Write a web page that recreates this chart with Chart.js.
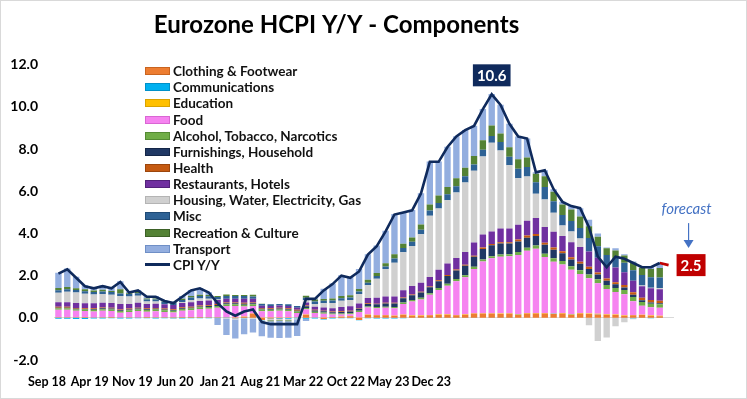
<!DOCTYPE html>
<html>
<head>
<meta charset="utf-8">
<title>Eurozone HCPI Y/Y - Components</title>
<script src="https://cdn.jsdelivr.net/npm/chart.js@4"></script>
<style>
  html, body { margin: 0; padding: 0; background: #fff; }
  .wrap { position: relative; width: 747px; height: 399px; }
  #legend { position: absolute; left: 145px; top: 63px; font: bold 13.5px Lato, sans-serif; color: #111; }
  #legend .row { height: 16.17px; display: flex; align-items: center; white-space: nowrap; }
  #legend .sw { width: 23px; height: 6px; margin-right: 3px; border: 1px solid; }
  #legend .ln { width: 25px; height: 3px; margin-right: 3px; }
</style>
</head>
<body>
<div class="wrap">
  <canvas id="hicpChart" width="747" height="399"></canvas>
  <div id="legend"></div>
</div>
<script>
// Monthly contributions to euro area HICP Y/Y (pp), Sep 18 - May 24
const clothing = [0.02,0.02,0.02,0.03,0.01,0.02,0.03,0.01,0.02,0.01,0.03,0.02,0.02,0.02,0.03,0.03,
  0.03,0.02,0.02,0,-0.02,0.05,0.2,-0.1,-0.03,-0.02,-0.01,0,
  0.15,0,-0.05,0.03,0.05,0.08,-0.1,0.15,0.12,0.12,0.1,0.15,
  0.1,0.1,0.12,0.15,0.15,0.12,0.15,0.2,0.2,0.2,0.18,0.2,
  0.15,0.2,0.2,0.2,0.18,0.2,0.15,0.2,0.18,0.16,0.15,0.14,
  0.1,0.12,0.13,0.1,0.08];
const communications = [-0.04,-0.04,-0.05,-0.05,-0.03,-0.03,-0.02,-0.03,-0.03,-0.02,-0.02,-0.03,-0.02,-0.02,-0.03,-0.02,
  -0.02,-0.02,-0.01,-0.01,-0.01,-0.02,-0.01,-0.02,-0.02,-0.03,-0.03,-0.02,
  -0.04,-0.03,-0.03,-0.03,-0.02,-0.02,-0.02,-0.02,-0.03,-0.03,-0.03,-0.02,
  -0.01,-0.01,-0.01,-0.01,-0.01,-0.01,-0.01,-0.01,0,-0.01,-0.01,-0.01,
  0.01,0.01,0.01,0.01,0.01,0.01,0.01,0.01,0,0.01,0,0,
  -0.01,-0.02,-0.01,-0.02,-0.01];
const education = [0.01,0.01,0.01,0.01,0.01,0.01,0.01,0.01,0.01,0.01,0.01,0.01,0.01,0.01,0.01,0.01,
  0.01,0.01,0.01,0.01,0.01,0.01,0.01,0.01,0.01,0.01,0.01,0.01,
  0.01,0.01,0.01,0.01,0.01,0.01,0.01,0.01,0.01,0.01,0.01,0.01,
  0.02,0.02,0.02,0.02,0.02,0.02,0.02,0.02,0.02,0.02,0.02,0.02,
  0.02,0.02,0.02,0.02,0.02,0.02,0.02,0.02,0.02,0.02,0.02,0.02,
  0.02,0.02,0.02,0.02,0.02];
const food = [0.35,0.35,0.3,0.28,0.28,0.3,0.28,0.22,0.25,0.3,0.25,0.28,0.25,0.22,0.3,0.32,
  0.38,0.4,0.45,0.55,0.55,0.48,0.35,0.3,0.3,0.32,0.3,0.22,
  0.25,0.22,0.18,0.12,0.1,0.08,0.27,0.33,0.33,0.35,0.35,0.5,
  0.65,0.75,0.95,1.15,1.35,1.6,1.75,2.1,2.45,2.6,2.7,2.7,
  2.8,2.95,3.05,2.65,2.45,2.3,2.1,1.85,1.68,1.45,1.2,1.07,
  1.0,0.65,0.42,0.38,0.38];
const alcohol = [0.07,0.07,0.07,0.07,0.08,0.08,0.08,0.08,0.08,0.08,0.08,0.08,0.08,0.08,0.08,0.08,
  0.08,0.08,0.08,0.08,0.08,0.08,0.08,0.08,0.07,0.07,0.07,0.07,
  0.06,0.06,0.06,0.05,0.05,0.05,0.05,0.05,0.05,0.05,0.05,0.07,
  0.08,0.08,0.08,0.09,0.1,0.1,0.1,0.1,0.1,0.1,0.1,0.1,
  0.14,0.14,0.15,0.16,0.17,0.17,0.17,0.18,0.18,0.19,0.19,0.18,
  0.2,0.2,0.18,0.17,0.16];
const furnishings = [0.03,0.03,0.03,0.03,0.04,0.04,0.04,0.04,0.04,0.04,0.04,0.04,0.04,0.04,0.04,0.04,
  0.04,0.05,0.05,0.05,0.05,0.05,0.05,0.04,0.04,0.04,0.04,0.04,
  0.08,0.06,0.06,0.06,0.07,0.08,0.1,0.12,0.13,0.15,0.17,0.2,
  0.22,0.25,0.28,0.32,0.36,0.4,0.45,0.48,0.5,0.52,0.52,0.5,
  0.5,0.48,0.45,0.42,0.4,0.36,0.32,0.3,0.26,0.22,0.2,0.18,
  0.12,0.1,0.08,0.06,0.05];
const health = [0.04,0.04,0.04,0.04,0.04,0.04,0.04,0.04,0.04,0.04,0.04,0.04,0.04,0.04,0.04,0.04,
  0.04,0.04,0.04,0.04,0.04,0.04,0.04,0.04,0.04,0.04,0.04,0.04,
  0.03,0.03,0.03,0.03,0.03,0.03,0.03,0.03,0.03,0.03,0.03,0.03,
  0.04,0.04,0.04,0.05,0.05,0.05,0.05,0.05,0.06,0.06,0.07,0.07,
  0.1,0.1,0.1,0.1,0.1,0.1,0.1,0.1,0.1,0.1,0.1,0.1,
  0.12,0.12,0.12,0.12,0.12];
const restaurants = [0.22,0.22,0.23,0.23,0.23,0.22,0.22,0.25,0.22,0.24,0.2,0.2,0.2,0.2,0.2,0.22,
  0.22,0.22,0.2,0.18,0.18,0.2,0.18,0.1,0.1,0.1,0.1,0.1,
  0.15,0.15,0.15,0.15,0.2,0.22,0.22,0.25,0.28,0.3,0.3,0.35,
  0.4,0.42,0.45,0.5,0.55,0.55,0.6,0.62,0.62,0.6,0.65,0.65,
  0.7,0.7,0.75,0.75,0.75,0.72,0.72,0.7,0.72,0.7,0.62,0.7,
  0.6,0.55,0.55,0.55,0.55];
const housing = [0.45,0.5,0.5,0.45,0.42,0.42,0.4,0.38,0.35,0.33,0.12,0.1,0.02,-0.04,0.05,0.1,
  0.12,0.08,0.02,-0.02,-0.05,-0.03,-0.03,-0.05,-0.07,-0.07,-0.07,-0.05,
  0.1,0.12,0.2,0.25,0.3,0.3,0.45,0.6,0.9,1.3,1.6,1.8,
  1.9,2.3,2.9,2.9,3.0,3.1,3.3,3.4,3.7,4.2,3.7,3.0,
  2.2,2.1,1.15,1.3,0.9,0.5,0.5,0.4,-0.35,-1.1,-0.93,-0.4,
  -0.2,-0.05,0.03,0.03,0.05];
const misc = [0.12,0.12,0.12,0.12,0.12,0.12,0.12,0.12,0.12,0.12,0.1,0.1,0.1,0.1,0.1,0.12,
  0.12,0.12,0.12,0.12,0.12,0.12,0.1,0.08,0.08,0.08,0.08,0.08,
  0.12,0.12,0.12,0.12,0.12,0.12,0.12,0.12,0.13,0.13,0.2,0.2,
  0.2,0.22,0.25,0.27,0.28,0.3,0.3,0.3,0.32,0.32,0.4,0.4,
  0.45,0.45,0.55,0.6,0.55,0.5,0.5,0.5,0.65,0.55,0.5,0.45,
  0.45,0.5,0.5,0.5,0.5];
const recreation = [0.1,0.1,0.08,0.1,0.07,0.08,0.05,0.2,0.03,0.1,0.05,0.05,0.03,0.03,0.06,0.08,
  0.06,0.06,0.05,0.08,0.05,0.05,0.08,0.02,-0.04,-0.03,-0.05,0,
  0.1,0.1,0.08,0.1,0.1,0.1,0.12,0.15,0.15,0.15,0.2,0.2,
  0.2,0.25,0.28,0.35,0.35,0.38,0.4,0.4,0.45,0.5,0.4,0.45,
  0.45,0.45,0.4,0.5,0.45,0.5,0.55,0.55,0.55,0.45,0.32,0.35,
  0.35,0.35,0.35,0.38,0.45];
const transport = [0.73,0.88,0.55,0.19,0.13,0.2,0.15,0.38,0.07,0.05,0.1,0.11,0.03,0.02,0.12,0.28,
  0.32,0.13,-0.33,-0.78,-0.9,-0.73,-0.65,-0.7,-0.78,-0.81,-0.78,-0.79,
  -0.11,0.06,0.49,0.71,0.99,0.85,0.95,1.21,1.3,1.54,1.92,1.51,
  1.3,1.48,2.04,1.61,1.9,1.99,1.79,1.44,1.48,1.49,1.37,1.12,
  1.08,0.9,0.07,0.29,0.12,0.12,0.16,0.39,0.31,0.15,0.03,0.11,
  0.05,0.06,0.03,0.11,0.25];
const cpi = [2.1,2.3,1.9,1.5,1.4,1.5,1.4,1.7,1.2,1.3,1.0,1.0,0.8,0.7,1.0,1.3,
  1.4,1.2,0.7,0.3,0.1,0.3,0.4,-0.2,-0.3,-0.3,-0.3,-0.3,
  0.9,0.9,1.3,1.6,2.0,1.9,2.2,3.0,3.4,4.1,4.9,5.0,
  5.1,5.9,7.4,7.4,8.1,8.6,8.9,9.1,9.9,10.6,10.1,9.2,
  8.6,8.5,6.9,7.0,6.1,5.5,5.3,5.2,4.3,2.9,2.4,2.9,
  2.8,2.6,2.4,2.4,2.6];
// last actual (May 24) and the Jun 24 forecast
const forecast = [2.6, 2.5];
const tickLabels = ['Sep 18', 'Apr 19', 'Nov 19', 'Jun 20', 'Jan 21', 'Aug 21', 'Mar 22', 'Oct 22', 'May 23', 'Dec 23'];

// month categories, Sep 18 through the forecast month
const monthNames = ['Jan','Feb','Mar','Apr','May','Jun','Jul','Aug','Sep','Oct','Nov','Dec'];
const months = [];
for (let i = 0; i < cpi.length + 1; i++) {
    const m = (8 + i) % 12;
    const yr = 18 + Math.floor((8 + i) / 12);
    months.push(monthNames[m] + ' ' + yr);
}

const FONT = 'Lato, "Open Sans", sans-serif';

const components = [
    { label: 'Clothing & Footwear', data: clothing, color: '#ed7d31', edge: '#c9641f' },
    { label: 'Communications', data: communications, color: '#00b0f0', edge: '#0090c8' },
    { label: 'Education', data: education, color: '#ffc000', edge: '#d9a300' },
    { label: 'Food', data: food, color: '#f683f0', edge: '#d966d3' },
    { label: 'Alcohol, Tobacco, Narcotics', data: alcohol, color: '#70ad47', edge: '#548a33' },
    { label: 'Furnishings, Household', data: furnishings, color: '#203864', edge: '#142648' },
    { label: 'Health', data: health, color: '#c55a11', edge: '#9c460c' },
    { label: 'Restaurants, Hotels', data: restaurants, color: '#7030a0', edge: '#52227a' },
    { label: 'Housing, Water, Electricity, Gas', data: housing, color: '#d0d0d0', edge: '#b4b4b4' },
    { label: 'Misc', data: misc, color: '#2e6295', edge: '#1f4a75' },
    { label: 'Recreation & Culture', data: recreation, color: '#548235', edge: '#3d6126' },
    { label: 'Transport', data: transport, color: '#93aedf', edge: '#6f8fc6' }
];

// white background + thin frame
const framePlugin = {
    id: 'frame',
    beforeDraw(chart) {
        const ctx = chart.ctx;
        ctx.save();
        ctx.fillStyle = '#fff';
        ctx.fillRect(0, 0, chart.width, chart.height);
        ctx.strokeStyle = '#d9d9d9';
        ctx.lineWidth = 1;
        ctx.strokeRect(0.5, 0.5, chart.width - 1, chart.height - 1);
        ctx.restore();
    }
};

function drawTag(ctx, left, cy, text, bg) {
    ctx.font = 'bold 15px ' + FONT;
    const w = ctx.measureText(text).width + 8;
    ctx.fillStyle = bg;
    ctx.fillRect(left, cy - 11, w, 22);
    ctx.fillStyle = '#fff';
    ctx.textAlign = 'left';
    ctx.textBaseline = 'middle';
    ctx.fillText(text, left + 4, cy + 1);
    return w;
}

// peak value tag and forecast callout
const calloutPlugin = {
    id: 'callouts',
    afterDatasetsDraw(chart) {
        const { ctx, scales: { x, y } } = chart;
        ctx.save();

        const peak = Math.max(...cpi);
        const pi = cpi.indexOf(peak);
        ctx.font = 'bold 15px ' + FONT;
        const pw = ctx.measureText(peak.toFixed(1)).width + 8;
        drawTag(ctx, x.getPixelForValue(pi) - pw / 2, y.getPixelForValue(peak) - 19, peak.toFixed(1), '#0f2a5c');

        const fIdx = cpi.length - 2 + forecast.length;
        const fVal = forecast[forecast.length - 1];
        const fx = x.getPixelForValue(fIdx);
        const fy = y.getPixelForValue(fVal);
        drawTag(ctx, fx + 8, fy, fVal.toFixed(1), '#c00000');

        ctx.font = 'italic 15px ' + FONT;
        ctx.fillStyle = '#4472c4';
        ctx.textAlign = 'center';
        ctx.textBaseline = 'middle';
        ctx.fillText('forecast', fx + 18, fy - 56);

        const ax = fx + 20;
        ctx.strokeStyle = '#4472c4';
        ctx.lineWidth = 1.2;
        ctx.beginPath();
        ctx.moveTo(ax, fy - 42);
        ctx.lineTo(ax, fy - 22);
        ctx.stroke();
        ctx.beginPath();
        ctx.moveTo(ax - 5, fy - 25);
        ctx.lineTo(ax + 5, fy - 25);
        ctx.lineTo(ax, fy - 17);
        ctx.closePath();
        ctx.fillStyle = '#4472c4';
        ctx.fill();
        ctx.restore();
    }
};

function initChart() {
    const ctx = document.getElementById('hicpChart').getContext('2d');

    const datasets = components.map(c => ({
        type: 'bar',
        label: c.label,
        data: c.data,
        backgroundColor: c.color,
        borderColor: c.edge,
        borderWidth: 0,
        stack: 'hicp',
        order: 1,
        barPercentage: 0.72,
        categoryPercentage: 1.0
    }));

    datasets.push({
        type: 'line',
        label: 'CPI Y/Y',
        data: cpi,
        borderColor: '#0f2a5c',
        backgroundColor: '#0f2a5c',
        borderWidth: 2.6,
        pointRadius: 0,
        tension: 0,
        stack: 'cpiLine',
        order: 0
    });

    datasets.push({
        type: 'line',
        label: '',
        data: Array(cpi.length - 1).fill(null).concat(forecast),
        borderColor: '#c00000',
        borderWidth: 2.6,
        pointRadius: 0,
        stack: 'forecastLine',
        order: 0
    });

    const chart = new Chart(ctx, {
        data: { labels: months, datasets: datasets },
        options: {
            responsive: false,
            animation: false,
            layout: { padding: { left: 0, right: 74, top: 0, bottom: 0 } },
            plugins: {
                legend: { display: false },
                tooltip: { enabled: false },
                title: {
                    display: true,
                    text: 'Eurozone HCPI Y/Y - Components',
                    color: '#000',
                    font: { family: FONT, size: 24, weight: 'bold' },
                    padding: { top: 11, bottom: 25 }
                }
            },
            scales: {
                x: {
                    type: 'category',
                    stacked: true,
                    position: { y: 0 },
                    grid: { display: false, drawTicks: false },
                    border: { display: true, color: '#d9d9d9' },
                    ticks: { display: false },
                    afterFit: scale => { scale.height = 0; }
                },
                x2: {
                    type: 'linear',
                    position: 'bottom',
                    min: 0,
                    max: 101.5,
                    grid: { display: false, drawTicks: false },
                    border: { display: false },
                    afterFit: scale => { scale.height = 39; },
                    afterBuildTicks: axis => {
                        axis.ticks = tickLabels.map((_, i) => ({ value: i * 7 }));
                    },
                    ticks: {
                        autoSkip: false,
                        maxRotation: 0,
                        labelOffset: -7,
                        padding: 14,
                        color: '#000',
                        font: { family: FONT, size: 12.5, weight: 'bold' },
                        callback: v => tickLabels[Math.round(v / 7)]
                    }
                },
                y: {
                    stacked: true,
                    min: -2,
                    max: 12,
                    grid: { display: false, drawTicks: false },
                    border: { display: false },
                    afterFit: scale => { scale.width = 54; },
                    ticks: {
                        stepSize: 2,
                        padding: 16,
                        color: '#000',
                        font: { family: FONT, size: 14, weight: 'bold' },
                        callback: v => v.toFixed(1)
                    }
                }
            }
        },
        plugins: [framePlugin, calloutPlugin]
    });

    buildLegend(chart);
}

// HTML legend placed over the plot, like the spreadsheet original
function buildLegend(chart) {
    const box = document.getElementById('legend');
    chart.data.datasets.filter(d => d.label).forEach(d => {
        const row = document.createElement('div');
        row.className = 'row';
        const sw = document.createElement('span');
        if (d.type === 'line') {
            sw.className = 'ln';
            sw.style.background = d.borderColor;
        } else {
            sw.className = 'sw';
            sw.style.background = d.backgroundColor;
            sw.style.borderColor = d.borderColor;
        }
        const txt = document.createElement('span');
        txt.textContent = d.label;
        row.appendChild(sw);
        row.appendChild(txt);
        box.appendChild(row);
    });
}

document.addEventListener('DOMContentLoaded', function () {
    initChart();
});
</script>
</body>
</html>
